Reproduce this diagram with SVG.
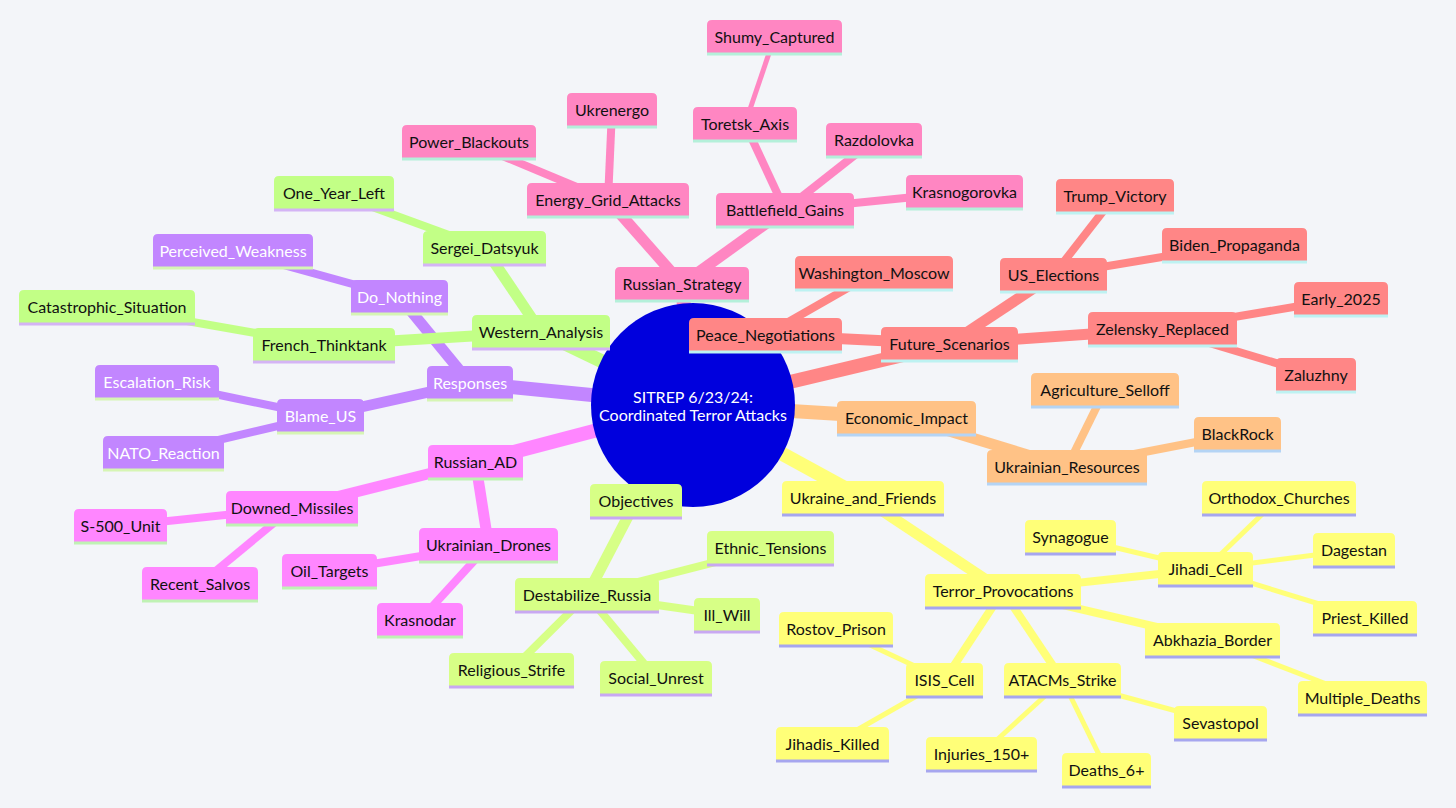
<svg xmlns="http://www.w3.org/2000/svg" width="1456" height="808" viewBox="0 0 1456 808">
<style>
.bg{fill:#f3f5f9}
text{font-family:"Trebuchet MS",Lato,"Liberation Sans",sans-serif;font-size:16px;text-anchor:middle;fill:#111}
.node path{stroke:none}
.node line{stroke-width:3}
.edges line{fill:none;stroke-linecap:butt}
.d1{stroke-width:14}.d2{stroke-width:11}.d3{stroke-width:8}.d4{stroke-width:5}
.s1 path{fill:#ffff78}.s1 line{stroke:#a6a6ef}.e1{stroke:#ffff78}
.s2 path{fill:#d7ff86}.s2 line{stroke:#c8a8f2}.e2{stroke:#d7ff86}
.s3 path{fill:#c286ff}.s3 line{stroke:#d6f5b4}.e3{stroke:#c286ff}.s3 text{fill:#ffffff}
.s4 path{fill:#ff86ff}.s4 line{stroke:#bff2b4}.e4{stroke:#ff86ff}
.s5 path{fill:#ff86c2}.s5 line{stroke:#b4f0da}.e5{stroke:#ff86c2}
.s6 path{fill:#ff8686}.s6 line{stroke:#bdf2f2}.e6{stroke:#ff8686}
.s7 path{fill:#ffc286}.s7 line{stroke:#b4d4f5}.e7{stroke:#ffc286}
.s8 path{fill:#c2ff86}.s8 line{stroke:#d4b4f5}.e8{stroke:#c2ff86}
.root circle{fill:#0000dd}
.root text{fill:#ffffff}
</style>
<rect class="bg" x="0" y="0" width="1456" height="808"/>
<g id="connectors" class="edges">
<!-- pink: Russian_Strategy -->
<line class="e5 d1" x1="693" y1="405" x2="682" y2="284"/>
<line class="e5 d2" x1="682" y1="284" x2="608" y2="200"/>
<line class="e5 d2" x1="682" y1="284" x2="785" y2="210"/>
<line class="e5 d3" x1="608" y1="200" x2="469" y2="142"/>
<line class="e5 d3" x1="608" y1="200" x2="612" y2="110"/>
<line class="e5 d3" x1="785" y1="210" x2="745" y2="124"/>
<line class="e5 d3" x1="785" y1="210" x2="874" y2="140"/>
<line class="e5 d3" x1="785" y1="210" x2="964.5" y2="192"/>
<line class="e5 d4" x1="745" y1="124" x2="774.5" y2="37"/>
<!-- salmon: Future_Scenarios -->
<line class="e6 d1" x1="693" y1="405" x2="949.5" y2="344"/>
<line class="e6 d2" x1="949.5" y1="344" x2="765.5" y2="335"/>
<line class="e6 d2" x1="949.5" y1="344" x2="1053.5" y2="275"/>
<line class="e6 d2" x1="949.5" y1="344" x2="1162.5" y2="329"/>
<line class="e6 d3" x1="765.5" y1="335" x2="874" y2="273"/>
<line class="e6 d3" x1="1053.5" y1="275" x2="1115" y2="196"/>
<line class="e6 d3" x1="1053.5" y1="275" x2="1234.5" y2="245"/>
<line class="e6 d3" x1="1162.5" y1="329" x2="1341" y2="299"/>
<line class="e6 d3" x1="1162.5" y1="329" x2="1316" y2="375"/>
<!-- orange: Economic_Impact -->
<line class="e7 d1" x1="693" y1="405" x2="906.5" y2="418"/>
<line class="e7 d2" x1="906.5" y1="418" x2="1067" y2="467"/>
<line class="e7 d3" x1="1067" y1="467" x2="1105" y2="390"/>
<line class="e7 d3" x1="1067" y1="467" x2="1237.5" y2="434"/>
<!-- yellow: Ukraine_and_Friends -->
<line class="e1 d1" x1="693" y1="405" x2="863" y2="498"/>
<line class="e1 d2" x1="863" y1="498" x2="1003" y2="591"/>
<line class="e1 d3" x1="1003" y1="591" x2="1205.5" y2="569"/>
<line class="e1 d3" x1="1003" y1="591" x2="1212.5" y2="640"/>
<line class="e1 d3" x1="1003" y1="591" x2="944.5" y2="680"/>
<line class="e1 d3" x1="1003" y1="591" x2="1062.5" y2="680"/>
<line class="e1 d4" x1="1205.5" y1="569" x2="1070.5" y2="537"/>
<line class="e1 d4" x1="1205.5" y1="569" x2="1279" y2="498"/>
<line class="e1 d4" x1="1205.5" y1="569" x2="1354" y2="550"/>
<line class="e1 d4" x1="1205.5" y1="569" x2="1365" y2="618"/>
<line class="e1 d4" x1="1212.5" y1="640" x2="1362.5" y2="698"/>
<line class="e1 d4" x1="944.5" y1="680" x2="836" y2="629"/>
<line class="e1 d4" x1="944.5" y1="680" x2="832.5" y2="744"/>
<line class="e1 d4" x1="1062.5" y1="680" x2="981.5" y2="754"/>
<line class="e1 d4" x1="1062.5" y1="680" x2="1106.5" y2="770"/>
<line class="e1 d4" x1="1062.5" y1="680" x2="1220.5" y2="723"/>
<!-- green: Objectives -->
<line class="e2 d1" x1="693" y1="405" x2="636" y2="501"/>
<line class="e2 d2" x1="636" y1="501" x2="587" y2="595"/>
<line class="e2 d3" x1="587" y1="595" x2="770.5" y2="548"/>
<line class="e2 d3" x1="587" y1="595" x2="727" y2="615"/>
<line class="e2 d3" x1="587" y1="595" x2="511.5" y2="670"/>
<line class="e2 d3" x1="587" y1="595" x2="656" y2="678"/>
<!-- magenta: Russian_AD -->
<line class="e4 d1" x1="693" y1="405" x2="475.5" y2="462"/>
<line class="e4 d2" x1="475.5" y1="462" x2="292" y2="508"/>
<line class="e4 d2" x1="475.5" y1="462" x2="488.5" y2="545"/>
<line class="e4 d3" x1="292" y1="508" x2="120.5" y2="526"/>
<line class="e4 d3" x1="292" y1="508" x2="200" y2="584"/>
<line class="e4 d3" x1="488.5" y1="545" x2="329.5" y2="571"/>
<line class="e4 d3" x1="488.5" y1="545" x2="420" y2="620"/>
<!-- purple: Responses -->
<line class="e3 d1" x1="693" y1="405" x2="470" y2="383"/>
<line class="e3 d2" x1="470" y1="383" x2="399.5" y2="297"/>
<line class="e3 d2" x1="470" y1="383" x2="320.5" y2="416"/>
<line class="e3 d3" x1="399.5" y1="297" x2="233" y2="251"/>
<line class="e3 d3" x1="320.5" y1="416" x2="157" y2="382"/>
<line class="e3 d3" x1="320.5" y1="416" x2="163.5" y2="453"/>
<!-- green: Western_Analysis -->
<line class="e8 d1" x1="693" y1="405" x2="541" y2="332"/>
<line class="e8 d2" x1="541" y1="332" x2="484.5" y2="248"/>
<line class="e8 d2" x1="541" y1="332" x2="324" y2="345"/>
<line class="e8 d3" x1="484.5" y1="248" x2="334" y2="193"/>
<line class="e8 d3" x1="324" y1="345" x2="107" y2="307"/>
</g>
<g id="root" class="root">
<circle cx="693" cy="405" r="102"/>
<text x="693" y="403">SITREP 6/23/24:</text>
<text x="693" y="421">Coordinated Terror Attacks</text>
</g>
<g id="n-Russian_Strategy" class="node s5" transform="translate(615,267)"><path d="M0,34V5Q0,0 5,0H129Q134,0 134,5V34Z"/><line x1="0" y1="34" x2="134" y2="34"/><text x="67" y="23">Russian_Strategy</text></g>
<g id="n-Energy_Grid_Attacks" class="node s5" transform="translate(527,183)"><path d="M0,34V5Q0,0 5,0H157Q162,0 162,5V34Z"/><line x1="0" y1="34" x2="162" y2="34"/><text x="81" y="23">Energy_Grid_Attacks</text></g>
<g id="n-Power_Blackouts" class="node s5" transform="translate(402,125)"><path d="M0,34V5Q0,0 5,0H129Q134,0 134,5V34Z"/><line x1="0" y1="34" x2="134" y2="34"/><text x="67" y="23">Power_Blackouts</text></g>
<g id="n-Ukrenergo" class="node s5" transform="translate(567,93)"><path d="M0,34V5Q0,0 5,0H85Q90,0 90,5V34Z"/><line x1="0" y1="34" x2="90" y2="34"/><text x="45" y="23">Ukrenergo</text></g>
<g id="n-Battlefield_Gains" class="node s5" transform="translate(716,193)"><path d="M0,34V5Q0,0 5,0H133Q138,0 138,5V34Z"/><line x1="0" y1="34" x2="138" y2="34"/><text x="69" y="23">Battlefield_Gains</text></g>
<g id="n-Toretsk_Axis" class="node s5" transform="translate(693,107)"><path d="M0,34V5Q0,0 5,0H99Q104,0 104,5V34Z"/><line x1="0" y1="34" x2="104" y2="34"/><text x="52" y="23">Toretsk_Axis</text></g>
<g id="n-Shumy_Captured" class="node s5" transform="translate(707,20)"><path d="M0,34V5Q0,0 5,0H130Q135,0 135,5V34Z"/><line x1="0" y1="34" x2="135" y2="34"/><text x="67.5" y="23">Shumy_Captured</text></g>
<g id="n-Razdolovka" class="node s5" transform="translate(826,123)"><path d="M0,34V5Q0,0 5,0H91Q96,0 96,5V34Z"/><line x1="0" y1="34" x2="96" y2="34"/><text x="48" y="23">Razdolovka</text></g>
<g id="n-Krasnogorovka" class="node s5" transform="translate(906,175)"><path d="M0,34V5Q0,0 5,0H112Q117,0 117,5V34Z"/><line x1="0" y1="34" x2="117" y2="34"/><text x="58.5" y="23">Krasnogorovka</text></g>
<g id="n-Future_Scenarios" class="node s6" transform="translate(881,327)"><path d="M0,34V5Q0,0 5,0H132Q137,0 137,5V34Z"/><line x1="0" y1="34" x2="137" y2="34"/><text x="68.5" y="23">Future_Scenarios</text></g>
<g id="n-Peace_Negotiations" class="node s6" transform="translate(689,318)"><path d="M0,34V5Q0,0 5,0H148Q153,0 153,5V34Z"/><line x1="0" y1="34" x2="153" y2="34"/><text x="76.5" y="23">Peace_Negotiations</text></g>
<g id="n-Washington_Moscow" class="node s6" transform="translate(795,256)"><path d="M0,34V5Q0,0 5,0H153Q158,0 158,5V34Z"/><line x1="0" y1="34" x2="158" y2="34"/><text x="79" y="23">Washington_Moscow</text></g>
<g id="n-US_Elections" class="node s6" transform="translate(1000,258)"><path d="M0,34V5Q0,0 5,0H102Q107,0 107,5V34Z"/><line x1="0" y1="34" x2="107" y2="34"/><text x="53.5" y="23">US_Elections</text></g>
<g id="n-Trump_Victory" class="node s6" transform="translate(1056,179)"><path d="M0,34V5Q0,0 5,0H113Q118,0 118,5V34Z"/><line x1="0" y1="34" x2="118" y2="34"/><text x="59" y="23">Trump_Victory</text></g>
<g id="n-Biden_Propaganda" class="node s6" transform="translate(1162,228)"><path d="M0,34V5Q0,0 5,0H140Q145,0 145,5V34Z"/><line x1="0" y1="34" x2="145" y2="34"/><text x="72.5" y="23">Biden_Propaganda</text></g>
<g id="n-Zelensky_Replaced" class="node s6" transform="translate(1088,312)"><path d="M0,34V5Q0,0 5,0H144Q149,0 149,5V34Z"/><line x1="0" y1="34" x2="149" y2="34"/><text x="74.5" y="23">Zelensky_Replaced</text></g>
<g id="n-Early_2025" class="node s6" transform="translate(1294,282)"><path d="M0,34V5Q0,0 5,0H89Q94,0 94,5V34Z"/><line x1="0" y1="34" x2="94" y2="34"/><text x="47" y="23">Early_2025</text></g>
<g id="n-Zaluzhny" class="node s6" transform="translate(1276,358)"><path d="M0,34V5Q0,0 5,0H75Q80,0 80,5V34Z"/><line x1="0" y1="34" x2="80" y2="34"/><text x="40" y="23">Zaluzhny</text></g>
<g id="n-Economic_Impact" class="node s7" transform="translate(837,401)"><path d="M0,34V5Q0,0 5,0H134Q139,0 139,5V34Z"/><line x1="0" y1="34" x2="139" y2="34"/><text x="69.5" y="23">Economic_Impact</text></g>
<g id="n-Ukrainian_Resources" class="node s7" transform="translate(987,450)"><path d="M0,34V5Q0,0 5,0H155Q160,0 160,5V34Z"/><line x1="0" y1="34" x2="160" y2="34"/><text x="80" y="23">Ukrainian_Resources</text></g>
<g id="n-Agriculture_Selloff" class="node s7" transform="translate(1031,373)"><path d="M0,34V5Q0,0 5,0H143Q148,0 148,5V34Z"/><line x1="0" y1="34" x2="148" y2="34"/><text x="74" y="23">Agriculture_Selloff</text></g>
<g id="n-BlackRock" class="node s7" transform="translate(1194,417)"><path d="M0,34V5Q0,0 5,0H82Q87,0 87,5V34Z"/><line x1="0" y1="34" x2="87" y2="34"/><text x="43.5" y="23">BlackRock</text></g>
<g id="n-Ukraine_and_Friends" class="node s1" transform="translate(782,481)"><path d="M0,34V5Q0,0 5,0H157Q162,0 162,5V34Z"/><line x1="0" y1="34" x2="162" y2="34"/><text x="81" y="23">Ukraine_and_Friends</text></g>
<g id="n-Terror_Provocations" class="node s1" transform="translate(925,574)"><path d="M0,34V5Q0,0 5,0H151Q156,0 156,5V34Z"/><line x1="0" y1="34" x2="156" y2="34"/><text x="78" y="23">Terror_Provocations</text></g>
<g id="n-Jihadi_Cell" class="node s1" transform="translate(1158,552)"><path d="M0,34V5Q0,0 5,0H90Q95,0 95,5V34Z"/><line x1="0" y1="34" x2="95" y2="34"/><text x="47.5" y="23">Jihadi_Cell</text></g>
<g id="n-Synagogue" class="node s1" transform="translate(1025,520)"><path d="M0,34V5Q0,0 5,0H86Q91,0 91,5V34Z"/><line x1="0" y1="34" x2="91" y2="34"/><text x="45.5" y="23">Synagogue</text></g>
<g id="n-Orthodox_Churches" class="node s1" transform="translate(1202,481)"><path d="M0,34V5Q0,0 5,0H149Q154,0 154,5V34Z"/><line x1="0" y1="34" x2="154" y2="34"/><text x="77" y="23">Orthodox_Churches</text></g>
<g id="n-Dagestan" class="node s1" transform="translate(1313,533)"><path d="M0,34V5Q0,0 5,0H77Q82,0 82,5V34Z"/><line x1="0" y1="34" x2="82" y2="34"/><text x="41" y="23">Dagestan</text></g>
<g id="n-Priest_Killed" class="node s1" transform="translate(1313,601)"><path d="M0,34V5Q0,0 5,0H99Q104,0 104,5V34Z"/><line x1="0" y1="34" x2="104" y2="34"/><text x="52" y="23">Priest_Killed</text></g>
<g id="n-Abkhazia_Border" class="node s1" transform="translate(1145,623)"><path d="M0,34V5Q0,0 5,0H130Q135,0 135,5V34Z"/><line x1="0" y1="34" x2="135" y2="34"/><text x="67.5" y="23">Abkhazia_Border</text></g>
<g id="n-Multiple_Deaths" class="node s1" transform="translate(1298,681)"><path d="M0,34V5Q0,0 5,0H124Q129,0 129,5V34Z"/><line x1="0" y1="34" x2="129" y2="34"/><text x="64.5" y="23">Multiple_Deaths</text></g>
<g id="n-ISIS_Cell" class="node s1" transform="translate(906,663)"><path d="M0,34V5Q0,0 5,0H72Q77,0 77,5V34Z"/><line x1="0" y1="34" x2="77" y2="34"/><text x="38.5" y="23">ISIS_Cell</text></g>
<g id="n-Rostov_Prison" class="node s1" transform="translate(779,612)"><path d="M0,34V5Q0,0 5,0H109Q114,0 114,5V34Z"/><line x1="0" y1="34" x2="114" y2="34"/><text x="57" y="23">Rostov_Prison</text></g>
<g id="n-Jihadis_Killed" class="node s1" transform="translate(776,727)"><path d="M0,34V5Q0,0 5,0H108Q113,0 113,5V34Z"/><line x1="0" y1="34" x2="113" y2="34"/><text x="56.5" y="23">Jihadis_Killed</text></g>
<g id="n-ATACMs_Strike" class="node s1" transform="translate(1004,663)"><path d="M0,34V5Q0,0 5,0H112Q117,0 117,5V34Z"/><line x1="0" y1="34" x2="117" y2="34"/><text x="58.5" y="23">ATACMs_Strike</text></g>
<g id="n-Injuries_150" class="node s1" transform="translate(926,737)"><path d="M0,34V5Q0,0 5,0H106Q111,0 111,5V34Z"/><line x1="0" y1="34" x2="111" y2="34"/><text x="55.5" y="23">Injuries_150+</text></g>
<g id="n-Deaths_6" class="node s1" transform="translate(1062,753)"><path d="M0,34V5Q0,0 5,0H84Q89,0 89,5V34Z"/><line x1="0" y1="34" x2="89" y2="34"/><text x="44.5" y="23">Deaths_6+</text></g>
<g id="n-Sevastopol" class="node s1" transform="translate(1174,706)"><path d="M0,34V5Q0,0 5,0H88Q93,0 93,5V34Z"/><line x1="0" y1="34" x2="93" y2="34"/><text x="46.5" y="23">Sevastopol</text></g>
<g id="n-Objectives" class="node s2" transform="translate(590,484)"><path d="M0,34V5Q0,0 5,0H87Q92,0 92,5V34Z"/><line x1="0" y1="34" x2="92" y2="34"/><text x="46" y="23">Objectives</text></g>
<g id="n-Destabilize_Russia" class="node s2" transform="translate(515,578)"><path d="M0,34V5Q0,0 5,0H139Q144,0 144,5V34Z"/><line x1="0" y1="34" x2="144" y2="34"/><text x="72" y="23">Destabilize_Russia</text></g>
<g id="n-Ethnic_Tensions" class="node s2" transform="translate(707,531)"><path d="M0,34V5Q0,0 5,0H122Q127,0 127,5V34Z"/><line x1="0" y1="34" x2="127" y2="34"/><text x="63.5" y="23">Ethnic_Tensions</text></g>
<g id="n-Ill_Will" class="node s2" transform="translate(694,598)"><path d="M0,34V5Q0,0 5,0H61Q66,0 66,5V34Z"/><line x1="0" y1="34" x2="66" y2="34"/><text x="33" y="23">Ill_Will</text></g>
<g id="n-Religious_Strife" class="node s2" transform="translate(449,653)"><path d="M0,34V5Q0,0 5,0H120Q125,0 125,5V34Z"/><line x1="0" y1="34" x2="125" y2="34"/><text x="62.5" y="23">Religious_Strife</text></g>
<g id="n-Social_Unrest" class="node s2" transform="translate(600,661)"><path d="M0,34V5Q0,0 5,0H107Q112,0 112,5V34Z"/><line x1="0" y1="34" x2="112" y2="34"/><text x="56" y="23">Social_Unrest</text></g>
<g id="n-Russian_AD" class="node s4" transform="translate(428,445)"><path d="M0,34V5Q0,0 5,0H90Q95,0 95,5V34Z"/><line x1="0" y1="34" x2="95" y2="34"/><text x="47.5" y="23">Russian_AD</text></g>
<g id="n-Downed_Missiles" class="node s4" transform="translate(226,491)"><path d="M0,34V5Q0,0 5,0H127Q132,0 132,5V34Z"/><line x1="0" y1="34" x2="132" y2="34"/><text x="66" y="23">Downed_Missiles</text></g>
<g id="n-S-500_Unit" class="node s4" transform="translate(74,509)"><path d="M0,34V5Q0,0 5,0H88Q93,0 93,5V34Z"/><line x1="0" y1="34" x2="93" y2="34"/><text x="46.5" y="23">S-500_Unit</text></g>
<g id="n-Recent_Salvos" class="node s4" transform="translate(142,567)"><path d="M0,34V5Q0,0 5,0H111Q116,0 116,5V34Z"/><line x1="0" y1="34" x2="116" y2="34"/><text x="58" y="23">Recent_Salvos</text></g>
<g id="n-Ukrainian_Drones" class="node s4" transform="translate(419,528)"><path d="M0,34V5Q0,0 5,0H134Q139,0 139,5V34Z"/><line x1="0" y1="34" x2="139" y2="34"/><text x="69.5" y="23">Ukrainian_Drones</text></g>
<g id="n-Oil_Targets" class="node s4" transform="translate(282,554)"><path d="M0,34V5Q0,0 5,0H90Q95,0 95,5V34Z"/><line x1="0" y1="34" x2="95" y2="34"/><text x="47.5" y="23">Oil_Targets</text></g>
<g id="n-Krasnodar" class="node s4" transform="translate(377,603)"><path d="M0,34V5Q0,0 5,0H81Q86,0 86,5V34Z"/><line x1="0" y1="34" x2="86" y2="34"/><text x="43" y="23">Krasnodar</text></g>
<g id="n-Responses" class="node s3" transform="translate(427,366)"><path d="M0,34V5Q0,0 5,0H81Q86,0 86,5V34Z"/><line x1="0" y1="34" x2="86" y2="34"/><text x="43" y="23">Responses</text></g>
<g id="n-Do_Nothing" class="node s3" transform="translate(351,280)"><path d="M0,34V5Q0,0 5,0H92Q97,0 97,5V34Z"/><line x1="0" y1="34" x2="97" y2="34"/><text x="48.5" y="23">Do_Nothing</text></g>
<g id="n-Perceived_Weakness" class="node s3" transform="translate(153,234)"><path d="M0,34V5Q0,0 5,0H155Q160,0 160,5V34Z"/><line x1="0" y1="34" x2="160" y2="34"/><text x="80" y="23">Perceived_Weakness</text></g>
<g id="n-Blame_US" class="node s3" transform="translate(277,399)"><path d="M0,34V5Q0,0 5,0H82Q87,0 87,5V34Z"/><line x1="0" y1="34" x2="87" y2="34"/><text x="43.5" y="23">Blame_US</text></g>
<g id="n-Escalation_Risk" class="node s3" transform="translate(95,365)"><path d="M0,34V5Q0,0 5,0H119Q124,0 124,5V34Z"/><line x1="0" y1="34" x2="124" y2="34"/><text x="62" y="23">Escalation_Risk</text></g>
<g id="n-NATO_Reaction" class="node s3" transform="translate(103,436)"><path d="M0,34V5Q0,0 5,0H116Q121,0 121,5V34Z"/><line x1="0" y1="34" x2="121" y2="34"/><text x="60.5" y="23">NATO_Reaction</text></g>
<g id="n-Western_Analysis" class="node s8" transform="translate(472,315)"><path d="M0,34V5Q0,0 5,0H133Q138,0 138,5V34Z"/><line x1="0" y1="34" x2="138" y2="34"/><text x="69" y="23">Western_Analysis</text></g>
<g id="n-Sergei_Datsyuk" class="node s8" transform="translate(423,231)"><path d="M0,34V5Q0,0 5,0H118Q123,0 123,5V34Z"/><line x1="0" y1="34" x2="123" y2="34"/><text x="61.5" y="23">Sergei_Datsyuk</text></g>
<g id="n-One_Year_Left" class="node s8" transform="translate(274,176)"><path d="M0,34V5Q0,0 5,0H115Q120,0 120,5V34Z"/><line x1="0" y1="34" x2="120" y2="34"/><text x="60" y="23">One_Year_Left</text></g>
<g id="n-French_Thinktank" class="node s8" transform="translate(253,328)"><path d="M0,34V5Q0,0 5,0H137Q142,0 142,5V34Z"/><line x1="0" y1="34" x2="142" y2="34"/><text x="71" y="23">French_Thinktank</text></g>
<g id="n-Catastrophic_Situation" class="node s8" transform="translate(19,290)"><path d="M0,34V5Q0,0 5,0H171Q176,0 176,5V34Z"/><line x1="0" y1="34" x2="176" y2="34"/><text x="88" y="23">Catastrophic_Situation</text></g>
</svg>
